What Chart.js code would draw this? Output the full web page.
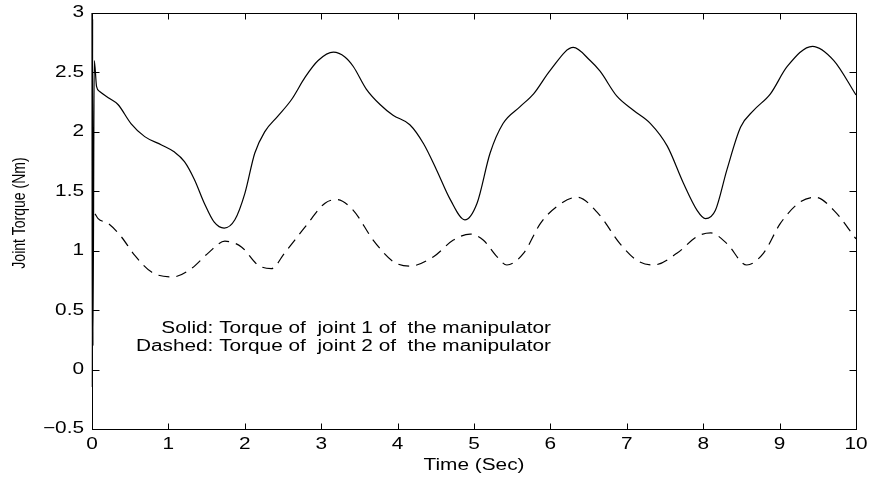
<!DOCTYPE html>
<html>
<head>
<meta charset="utf-8">
<script src="https://cdn.jsdelivr.net/npm/chart.js@4.4.0/dist/chart.umd.min.js"></script>
<style>
  html, body { margin: 0; padding: 0; background: #fff; }
  #wrap { width: 872px; height: 480px; }
</style>
</head>
<body>
<div id="wrap"><canvas id="torqueChart" width="872" height="480"></canvas></div>
<script>
// joint 1 torque (solid), with the start-up spike at t = 0
const solidTime = [0, 0.004, 0.008, 0.012, 0.03, 0.06, 0.1, 0.23, 0.34, 0.51, 0.69, 0.91, 1.08, 1.21, 1.34, 1.47, 1.6, 1.73, 1.87, 2.0, 2.13, 2.26,
  2.43, 2.61, 2.79, 2.96, 3.16, 3.31, 3.42, 3.59, 3.77, 3.94, 4.16, 4.34, 4.51, 4.69, 4.88, 5.04, 5.21, 5.38, 5.6, 5.78,
  6.0, 6.3, 6.52, 6.65, 6.87, 7.09, 7.31, 7.53, 7.74, 7.92, 8.03, 8.16, 8.31, 8.49, 8.66, 8.88, 9.1, 9.43, 9.71, 10.0];
const solidTorque = [3.0, -0.15, 2.95, 0.2, 2.6, 2.38, 2.34, 2.28, 2.23, 2.07, 1.96, 1.89, 1.83, 1.75, 1.6, 1.4, 1.24, 1.19, 1.26, 1.48, 1.82, 2.0,
  2.13, 2.27, 2.46, 2.6, 2.67, 2.63, 2.55, 2.36, 2.23, 2.14, 2.06, 1.9, 1.68, 1.43, 1.26, 1.4, 1.82, 2.07, 2.21, 2.32,
  2.52, 2.71, 2.6, 2.51, 2.3, 2.18, 2.07, 1.88, 1.57, 1.34, 1.27, 1.34, 1.68, 2.04, 2.18, 2.32, 2.55, 2.72, 2.6, 2.31];

// joint 2 torque (dashed)
const dashedTime = [0.04, 0.08, 0.21, 0.38, 0.56, 0.78, 1.06, 1.3, 1.52, 1.74, 1.96, 2.17, 2.35, 2.52, 2.79, 3.05, 3.2, 3.42, 3.68, 3.94,
  4.16, 4.47, 4.73, 4.95, 5.12, 5.3, 5.43, 5.65, 5.87, 6.08, 6.35, 6.63, 6.91, 7.13, 7.35, 7.66, 7.92, 8.1, 8.31, 8.57,
  8.79, 9.01, 9.27, 9.47, 9.71, 10.0];
const dashedTorque = [1.31, 1.27, 1.23, 1.12, 0.96, 0.82, 0.78, 0.85, 0.98, 1.08, 1.03, 0.88, 0.85, 0.98, 1.2, 1.4, 1.43, 1.34, 1.09, 0.91,
  0.87, 0.95, 1.09, 1.14, 1.09, 0.95, 0.88, 0.98, 1.23, 1.37, 1.45, 1.31, 1.06, 0.92, 0.88, 0.98, 1.12, 1.15, 1.06, 0.88,
  0.98, 1.23, 1.41, 1.45, 1.34, 1.10];

const xTicks = [0, 1, 2, 3, 4, 5, 6, 7, 8, 9, 10];
const yTicks = [-0.5, 0, 0.5, 1, 1.5, 2, 2.5, 3];
const yTickLabels = ['\u22120.5', '0', '0.5', '1', '1.5', '2', '2.5', '3'];
const xTitle = 'Time (Sec)';
const yTitle = 'Joint Torque (Nm)';
const noteLines = ['Solid: Torque of  joint 1 of  the manipulator', 'Dashed: Torque of  joint 2 of  the manipulator'];

const FONT = '"Liberation Sans", Arial, Helvetica, sans-serif';
const SX = 1.3; // reference text is drawn wide

function toPoints(xs, ys) {
  return xs.map((x, i) => ({ x: x, y: ys[i] }));
}

function wideText(ctx, text, x, y, align) {
  ctx.save();
  ctx.translate(x, y);
  ctx.scale(SX, 1);
  ctx.textAlign = align;
  ctx.textBaseline = 'middle';
  ctx.fillText(text, 0, 0);
  ctx.restore();
}

const matlabFrame = {
  id: 'matlabFrame',
  afterDraw(chart) {
    const { ctx, chartArea: a, scales } = chart;
    const xs = scales.x, ys = scales.y;
    const L = Math.round(a.left) + 0.5, R = Math.round(a.right) + 0.5;
    const T = Math.round(a.top) + 0.5, B = Math.round(a.bottom) + 0.5;
    ctx.save();
    ctx.strokeStyle = '#000';
    ctx.lineWidth = 1;
    ctx.strokeRect(L, T, R - L, B - T);

    // inward ticks on all four sides
    ctx.beginPath();
    xTicks.forEach(v => {
      const px = Math.round(xs.getPixelForValue(v)) + 0.5;
      ctx.moveTo(px, B); ctx.lineTo(px, B - 6);
      ctx.moveTo(px, T); ctx.lineTo(px, T + 6);
    });
    yTicks.forEach(v => {
      const py = Math.round(ys.getPixelForValue(v)) + 0.5;
      ctx.moveTo(L, py); ctx.lineTo(L + 7, py);
      ctx.moveTo(R, py); ctx.lineTo(R - 7, py);
    });
    ctx.stroke();

    // tick labels
    ctx.fillStyle = '#000';
    ctx.font = '16px ' + FONT;
    xTicks.forEach(v => wideText(ctx, String(v), xs.getPixelForValue(v), 445, 'center'));
    yTicks.forEach((v, i) => wideText(ctx, yTickLabels[i], 84, ys.getPixelForValue(v), 'right'));

    // axis titles
    wideText(ctx, xTitle, 474, 466, 'center');
    ctx.save();
    ctx.font = '14px ' + FONT;
    ctx.translate(20, 213);
    ctx.scale(SX, 1);
    ctx.rotate(-Math.PI / 2);
    ctx.textAlign = 'center';
    ctx.textBaseline = 'middle';
    ctx.fillText(yTitle, 0, 0);
    ctx.restore();

    // annotation text
    wideText(ctx, noteLines[0], 551, 329, 'right');
    wideText(ctx, noteLines[1], 551, 347, 'right');
    ctx.restore();
  }
};

new Chart(document.getElementById('torqueChart').getContext('2d'), {
  type: 'line',
  data: {
    datasets: [{
      label: 'Joint 1',
      data: toPoints(solidTime, solidTorque),
      borderColor: '#000',
      borderWidth: 1.2,
      pointRadius: 0,
      clip: 3,
      cubicInterpolationMode: 'monotone'
    }, {
      label: 'Joint 2',
      data: toPoints(dashedTime, dashedTorque),
      borderColor: '#000',
      borderWidth: 1.2,
      borderDash: [11, 7],
      pointRadius: 0,
      cubicInterpolationMode: 'monotone'
    }]
  },
  options: {
    responsive: false,
    animation: false,
    layout: { padding: { top: 13, right: 16, left: 0, bottom: 0 } },
    plugins: { legend: { display: false }, tooltip: { enabled: false } },
    scales: {
      x: {
        type: 'linear', min: 0, max: 10,
        grid: { display: false }, border: { display: false },
        ticks: { display: false },
        afterFit: s => { s.height = 51; }
      },
      y: {
        min: -0.5, max: 3,
        grid: { display: false }, border: { display: false },
        ticks: { display: false },
        afterFit: s => { s.width = 92; }
      }
    }
  },
  plugins: [matlabFrame]
});
</script>
</body>
</html>
